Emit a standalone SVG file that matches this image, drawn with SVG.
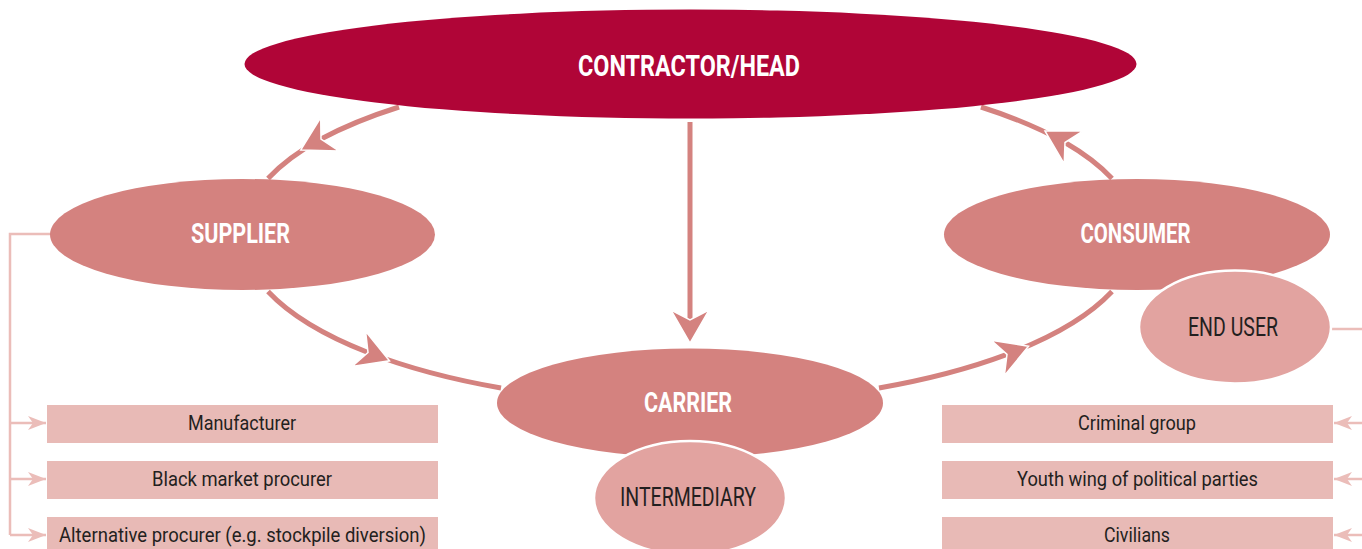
<svg xmlns="http://www.w3.org/2000/svg" width="1362" height="549" viewBox="0 0 1362 549">
<style>
.arc{fill:none;stroke:#d4827f;stroke-width:5}
.br{fill:none;stroke:#ebbdb9;stroke-width:2.5}
.main{fill:#d4827f}
.sub{fill:#e2a3a0;stroke:#fff;stroke-width:2.5}
.box{fill:#e8bab6}
.h{font-family:Roboto,"DejaVu Sans Condensed","Liberation Sans",sans-serif;font-weight:bold;fill:#fff;text-anchor:middle}
.t{font-family:Roboto,"DejaVu Sans Condensed","Liberation Sans",sans-serif;fill:#231f20;text-anchor:middle}
</style>
<defs>
<marker id="ah" markerUnits="userSpaceOnUse" markerWidth="40" markerHeight="44" viewBox="-12 -22 40 44" refX="0" refY="0" orient="auto" overflow="visible">
<path d="M23,0 L-10,-19 L0,0 L-10,19 Z" fill="#d4827f" stroke="#fff" stroke-width="1.5" stroke-linejoin="miter"/>
</marker>
<marker id="sa" markerUnits="userSpaceOnUse" markerWidth="24" markerHeight="18" viewBox="-20 -9 24 18" refX="0" refY="0" orient="auto" overflow="visible">
<path d="M0,0 L-18,-7 L-13,0 L-18,7 Z" fill="#ebbdb9"/>
</marker>
</defs>
<g id="connectors">
<path class="arc" d="M399,107 A448 169 0 0 0 321,139 A448 169 0 0 0 268,178.5" marker-mid="url(#ah)"/>
<path class="arc" d="M268,291.5 A448 169 0 0 0 368,352.5 A448 169 0 0 0 501,388" marker-mid="url(#ah)"/>
<path class="arc" d="M879,388 A448 169 0 0 0 1007,354.4 A448 169 0 0 0 1112,291.5" marker-mid="url(#ah)"/>
<path class="arc" d="M1112,178.5 A448 169 0 0 0 1065,142.5 A448 169 0 0 0 981,107" marker-mid="url(#ah)"/>
<path class="arc" d="M690,122 L690,320" marker-end="url(#ah)"/>
<path class="br" d="M52,234 L10,234 L10,535"/>
<path class="br" d="M10,423 L46,423" marker-end="url(#sa)"/>
<path class="br" d="M10,479 L46,479" marker-end="url(#sa)"/>
<path class="br" d="M10,535 L46,535" marker-end="url(#sa)"/>
<path class="br" d="M1330,329 L1362,329"/>
<path class="br" d="M1362,423 L1334,423" marker-end="url(#sa)"/>
<path class="br" d="M1362,479 L1334,479" marker-end="url(#sa)"/>
<path class="br" d="M1362,535 L1334,535" marker-end="url(#sa)"/>
</g>
<g id="contractor">
<ellipse cx="690.5" cy="64" rx="446" ry="54.5" fill="#b00537"/>
<text class="h" x="689" y="76" font-size="29" textLength="222" lengthAdjust="spacingAndGlyphs">CONTRACTOR/HEAD</text>
</g>
<g id="supplier">
<ellipse class="main" cx="242.5" cy="234.5" rx="192.5" ry="55.5"/>
<text class="h" x="240.5" y="243" font-size="27" textLength="99" lengthAdjust="spacingAndGlyphs">SUPPLIER</text>
</g>
<g id="consumer">
<ellipse class="main" cx="1137" cy="234.5" rx="193" ry="55.5"/>
<text class="h" x="1135.5" y="243" font-size="27" textLength="110" lengthAdjust="spacingAndGlyphs">CONSUMER</text>
</g>
<g id="end-user">
<ellipse class="sub" cx="1235" cy="327" rx="96" ry="56.5"/>
<text class="t" x="1233" y="336" font-size="26" textLength="90" lengthAdjust="spacingAndGlyphs">END USER</text>
</g>
<g id="carrier">
<ellipse class="main" cx="690" cy="403" rx="193" ry="54.5"/>
<text class="h" x="688" y="412" font-size="27" textLength="88" lengthAdjust="spacingAndGlyphs">CARRIER</text>
</g>
<g id="intermediary">
<ellipse class="sub" cx="690" cy="498" rx="96" ry="57"/>
<text class="t" x="688" y="506" font-size="26" textLength="136" lengthAdjust="spacingAndGlyphs">INTERMEDIARY</text>
</g>
<g id="manufacturer">
<rect class="box" x="47" y="405" width="391" height="38"/>
<text class="t" x="242" y="430" font-size="21" textLength="108" lengthAdjust="spacingAndGlyphs">Manufacturer</text>
</g>
<g id="black-market">
<rect class="box" x="47" y="461" width="391" height="38"/>
<text class="t" x="242" y="486" font-size="21" textLength="180" lengthAdjust="spacingAndGlyphs">Black market procurer</text>
</g>
<g id="alternative">
<rect class="box" x="47" y="517" width="391" height="38"/>
<text class="t" x="242.5" y="542" font-size="21" textLength="367" lengthAdjust="spacingAndGlyphs">Alternative procurer (e.g. stockpile diversion)</text>
</g>
<g id="criminal">
<rect class="box" x="942" y="405" width="391" height="38"/>
<text class="t" x="1137" y="430" font-size="21" textLength="118" lengthAdjust="spacingAndGlyphs">Criminal group</text>
</g>
<g id="youth">
<rect class="box" x="942" y="461" width="391" height="38"/>
<text class="t" x="1137.5" y="486" font-size="21" textLength="241" lengthAdjust="spacingAndGlyphs">Youth wing of political parties</text>
</g>
<g id="civilians">
<rect class="box" x="942" y="517" width="391" height="38"/>
<text class="t" x="1137" y="542" font-size="21" textLength="66" lengthAdjust="spacingAndGlyphs">Civilians</text>
</g>
</svg>
